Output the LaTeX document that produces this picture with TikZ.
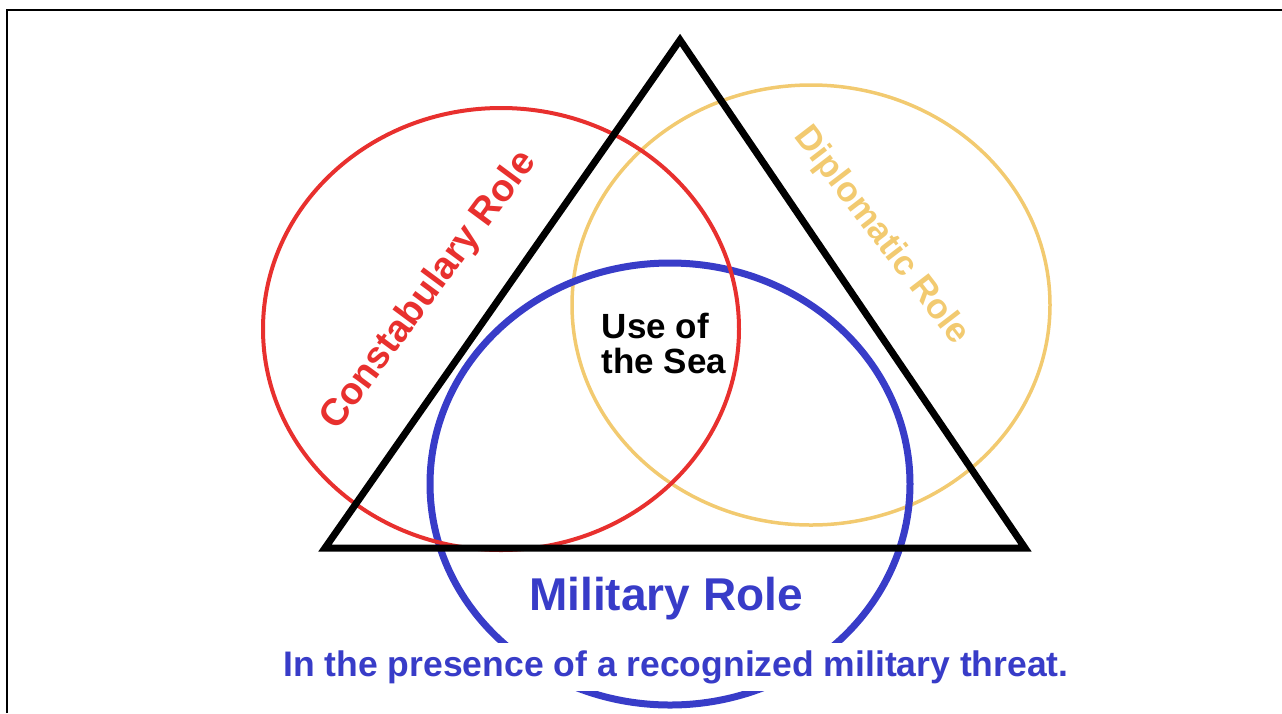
\documentclass[tikz,border=0pt]{standalone}
\usepackage{fontspec}
\setmainfont{Liberation Sans}
\usepackage{xcolor}
\usepackage{tikz}
\definecolor{rolered}{RGB}{232,48,46}
\definecolor{roleyellow}{RGB}{242,202,112}
\definecolor{roleblue}{RGB}{56,60,200}
\tikzset{role/.style={font=\bfseries, inner sep=0pt},
%size of the text in pixels
fsize/.style={font=\bfseries\fontsize{#1}{#1}\selectfont},
fsize/.default={35}}

\begin{document}
\begin{tikzpicture}[x=1pt, y=-1pt]
\useasboundingbox (0,0) rectangle (1282,713);
\draw[line width=2.5] (7,713) -- (7,10) -- (1282,10);
%the three roles
\draw[roleyellow, line width=3.5] (811,305) ellipse [x radius=239, y radius=220];
\draw[roleblue, line width=7] (670,484) ellipse [x radius=240, y radius=221];
\draw[rolered, line width=4] (501,329) ellipse [x radius=238, y radius=221];
\coordinate (top) at (680,40);
\coordinate (left) at (325,548);
\coordinate (right) at (1025,548);
\draw[line width=7, line join=miter] (top) -- (right) -- (left) -- cycle;
\node[role, fsize=38, text=rolered, rotate=53.5] (constab) at (429,291) {Constabulary Role};
\node[role, fsize=35, text=roleyellow, rotate=-52.5] (diplo) at (881,236) {Diplomatic Role};
\node[role, fsize=35, align=left, inner sep=0pt] (sea) at (664,343) {\fontsize{35}{43}\selectfont Use of\\the Sea};
\node[role, fsize=46, text=roleblue] (military) at (666,599) {Military Role};
\node[fsize=35.5, text=roleblue, fill=white, inner xsep=6pt, inner ysep=7pt] (threat) at (676,667) {In the presence of a recognized military threat.};
\end{tikzpicture}
\end{document}
